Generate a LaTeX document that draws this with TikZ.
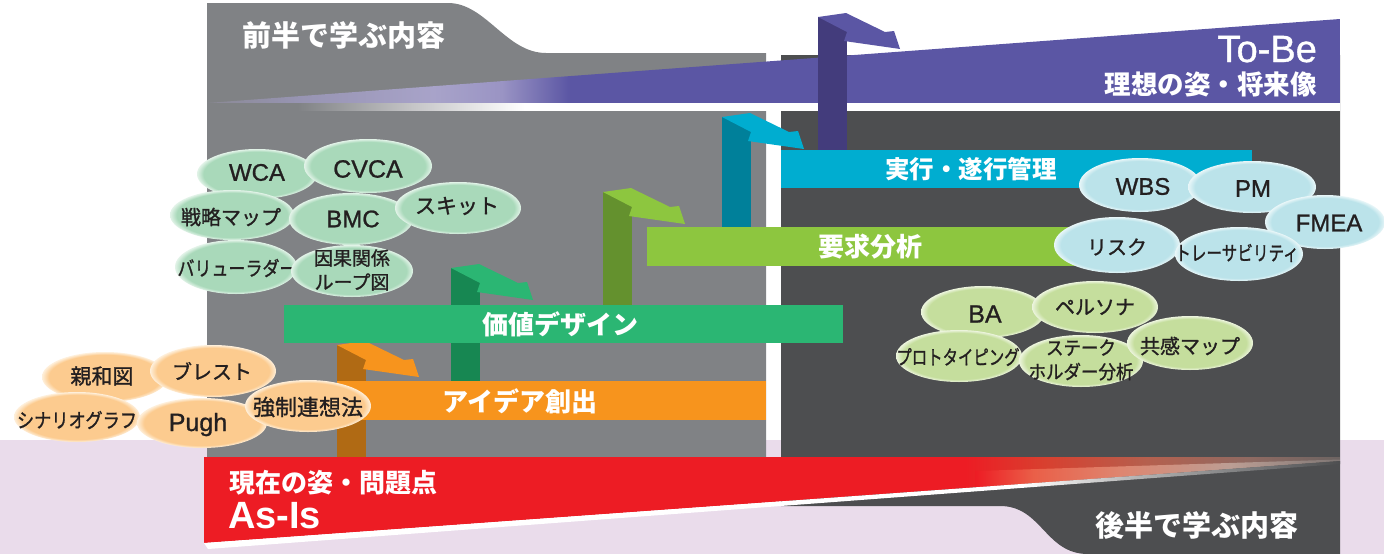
\documentclass[tikz,border=0pt]{standalone}
\usepackage{fontspec}
\setmainfont{Liberation Sans}
\newfontfamily\jp{Noto Sans CJK JP}
\newfontfamily\jpm{Noto Sans CJK JP}[FakeBold=1.2]
\newfontfamily\latm{Liberation Sans}[FakeBold=1.0]
\usepackage{graphicx}
\definecolor{panelgray}{HTML}{808285}
\definecolor{darkpanel}{HTML}{4D4E50}
\definecolor{lavender}{HTML}{EADCEB}
\definecolor{tobe}{HTML}{5B56A4}
\definecolor{tobedark}{HTML}{433C7C}
\definecolor{tobeZ}{HTML}{8A8994}
\definecolor{tobeA}{HTML}{9794B2}
\definecolor{tobeB}{HTML}{A8A3C9}
\definecolor{tobeC}{HTML}{9A94C4}
\definecolor{stripL}{HTML}{C4C4C6}
\definecolor{asis}{HTML}{ED1C24}
\definecolor{asisA}{HTML}{D8402F}
\definecolor{asisB}{HTML}{B5604E}
\definecolor{asisC}{HTML}{8F6A62}
\definecolor{asisD}{HTML}{6C6462}
\definecolor{salA}{HTML}{EA5F48}
\definecolor{salB}{HTML}{DE8670}
\definecolor{salC}{HTML}{BC9E94}
\definecolor{salD}{HTML}{7E7674}
\definecolor{stripg}{HTML}{B4B4B4}
\definecolor{orangeband}{HTML}{F7941D}
\definecolor{orangedark}{HTML}{B06A14}
\definecolor{greenband}{HTML}{2BB673}
\definecolor{greendark}{HTML}{178752}
\definecolor{lgreenband}{HTML}{8DC63F}
\definecolor{olivedark}{HTML}{64912E}
\definecolor{cyanband}{HTML}{00ADD0}
\definecolor{tealdark}{HTML}{00809A}
\definecolor{eG}{HTML}{A9D9BA}
\definecolor{eGw}{HTML}{E2F3E8}
\definecolor{eC}{HTML}{BBE3EA}
\definecolor{eCw}{HTML}{E8F6F8}
\definecolor{eL}{HTML}{C5DE9D}
\definecolor{eLw}{HTML}{ECF4DD}
\definecolor{eO}{HTML}{FCCB8F}
\definecolor{eOw}{HTML}{FEEFDA}
\definecolor{txt}{HTML}{231F20}
\pgfdeclarehorizontalshading{tobeshade}{100bp}{color(0bp)=(tobeZ); color(25bp)=(tobeZ); color(29bp)=(tobeA); color(35bp)=(tobeB); color(38bp)=(tobeC); color(41bp)=(tobe); color(100bp)=(tobe)}
\pgfdeclarehorizontalshading{wstripP}{100bp}{color(0bp)=(panelgray); color(29bp)=(panelgray); color(34bp)=(stripL); color(39bp)=(white); color(100bp)=(white)}
\pgfdeclarehorizontalshading{asisshade}{100bp}{color(0bp)=(asis); color(58.5bp)=(asis); color(62bp)=(asisA); color(66.5bp)=(asisB); color(71bp)=(asisC); color(75bp)=(asisD); color(100bp)=(asisD)}
\pgfdeclarehorizontalshading{salmonshade}{100bp}{color(0bp)=(asis); color(25bp)=(asis); color(33bp)=(salA); color(45bp)=(salB); color(60bp)=(salC); color(75bp)=(salD); color(100bp)=(salD)}
\pgfdeclarehorizontalshading{wstripR}{100bp}{color(0bp)=(white); color(61bp)=(white); color(66bp)=(stripg); color(75bp)=(darkpanel); color(100bp)=(darkpanel)}
\pgfdeclareradialshading{glowG}{\pgfpoint{0bp}{0bp}}{color(0bp)=(eG); color(22.3bp)=(eG); color(25bp)=(eGw); color(50bp)=(eGw)}
\pgfdeclareradialshading{glowC}{\pgfpoint{0bp}{0bp}}{color(0bp)=(eC); color(22.3bp)=(eC); color(25bp)=(eCw); color(50bp)=(eCw)}
\pgfdeclareradialshading{glowL}{\pgfpoint{0bp}{0bp}}{color(0bp)=(eL); color(22.3bp)=(eL); color(25bp)=(eLw); color(50bp)=(eLw)}
\pgfdeclareradialshading{glowO}{\pgfpoint{0bp}{0bp}}{color(0bp)=(eO); color(22.3bp)=(eO); color(25bp)=(eOw); color(50bp)=(eOw)}
\newcommand\ribarrow[5]{%
  \fill[#4] (#1,#2) rectangle ({#1+29},#3);
  \fill[#5] (#1,#2) -- ++(28,-4) -- ++(39,19) -- ++(9,-1) -- ++(6,18) -- ++(-56,-8) -- ++(3,-9) -- cycle;
}
\newcommand\bub[5]{\shade[shading=#1] (#2,#3) ellipse [x radius=#4, y radius=#5];}
\tikzset{
  bandtxt/.style={font=\jp\bfseries\fontsize{26}{26}\selectfont, text=white, inner sep=0},
  hdr/.style={font=\jp\bfseries\fontsize{29}{29}\selectfont, text=white, inner sep=0},
  jtxt/.style={font=\jpm\fontsize{20}{24}\selectfont, text=txt, inner sep=0, align=center},
  ltxt/.style={font=\latm\fontsize{24}{24}\selectfont, text=txt, inner sep=0},
}
\begin{document}
\begin{tikzpicture}[x=1pt,y=-1pt]
\useasboundingbox (0,0) rectangle (1384,554);
% backgrounds
\fill[lavender] (0,440) rectangle (1384,554);
\fill[panelgray] (207,3) -- (448,3) .. controls (486,3) and (506,53) .. (546,53) -- (766,53) -- (766,470) -- (207,470) -- cycle;
\fill[darkpanel] (781,55) -- (1340,55) -- (1340,554) -- (1088,554) .. controls (1045,554) and (1042,506) .. (1000,506) -- (781,506) -- cycle;
% To-Be band
\shade[shading=tobeshade] (207,103) -- (1340,19) -- (1340,103) -- cycle;
\shade[shading=wstripP] (207,103) rectangle (1340,110);
% arrows
\ribarrow{337}{345}{457}{orangedark}{orangeband}
\ribarrow{451}{268}{385}{greendark}{greenband}
\ribarrow{603}{192}{310}{olivedark}{lgreenband}
\ribarrow{722}{117}{230}{tealdark}{cyanband}
\ribarrow{818}{17}{155}{tobedark}{tobe}
% bands
\fill[orangeband] (337,381) rectangle (766,420);
\fill[greenband] (284,305) rectangle (843,343);
\fill[lgreenband] (647,227) rectangle (1095,266);
\fill[cyanband] (781,150) rectangle (1252,188);
\node[bandtxt] (idea) at (520,401) {アイデア創出};
\node[bandtxt] (value) at (560,324) {価値デザイン};
\node[bandtxt] (req) at (870,246.5) {要求分析};
\node[bandtxt, font=\jp\bfseries\fontsize{24.5}{25}\selectfont] (exec) at (971,169) {実行・遂行管理};
% As-Is band
\shade[shading=asisshade] (204,457) -- (1340,457) -- (1340,461) -- (204,543) -- cycle;
\shade[shading=salmonshade] (975,471) -- (1340,459.5) -- (1340,461) -- (975,487.3) -- cycle;
\shade[shading=wstripR] (204,543) -- (1340,461) -- (1340,464) -- (208,549) -- cycle;
% green ellipses
\bub{glowG}{257}{174}{60}{25}
\node[ltxt] (wca) at (257,172.5) {WCA};
\bub{glowG}{368}{166}{64}{27}
\node[ltxt, font=\latm\fontsize{25}{25}\selectfont] (cvca) at (368,169) {CVCA};
\bub{glowG}{232}{215}{62}{25}
\node[jtxt] (senryaku) at (231,217) {戦略マップ};
\bub{glowG}{351}{219}{62}{26}
\node[ltxt] (bmc) at (353,219) {BMC};
\bub{glowG}{458}{208}{63}{26}
\node[jtxt, font=\jpm\fontsize{21}{24}\selectfont] (skit) at (457,206) {スキット};
\bub{glowG}{236}{267}{61}{27}
\node[jtxt] (value2) at (237,268) {\scalebox{0.85}[1]{バリューラダー}};
\bub{glowG}{352}{271}{61}{26}
\node[jtxt, font=\jpm\fontsize{19}{24}\selectfont] (loop) at (352,270) {因果関係\\ループ図};
% cyan ellipses
\bub{glowC}{1140}{185}{61}{27}
\node[ltxt] (wbs) at (1143,186.5) {WBS};
\bub{glowC}{1252}{187}{64}{26}
\node[ltxt] (pm) at (1253,188.5) {PM};
\bub{glowC}{1325}{222}{60}{27}
\node[ltxt] (fmea) at (1329,223) {FMEA};
\bub{glowC}{1117}{245}{63}{28}
\node[jtxt] (risk) at (1117,247) {リスク};
\bub{glowC}{1239}{254}{64}{27}
\node[jtxt] (trace) at (1237,253) {\scalebox{0.78}[1]{トレーサビリティ}};
% light green ellipses
\bub{glowL}{983}{312}{62}{26}
\node[ltxt, font=\latm\fontsize{25}{25}\selectfont] (ba) at (985,314) {BA};
\bub{glowL}{1095}{307}{63}{26}
\node[jtxt] (persona) at (1095,307) {ペルソナ};
\bub{glowL}{959}{356}{63}{26}
\node[jtxt] (proto) at (958,357) {\scalebox{0.77}[1]{プロトタイピング}};
\bub{glowL}{1081}{361}{62}{26}
\node[jtxt, font=\jpm\fontsize{19}{24}\selectfont] (stake) at (1081,360) {\scalebox{0.92}[1]{ステーク}\\\scalebox{0.92}[1]{ホルダー分析}};
\bub{glowL}{1190}{343}{63}{27}
\node[jtxt] (empathy) at (1190,346) {共感マップ};
% orange ellipses
\bub{glowO}{105}{377}{63}{25}
\node[jtxt, font=\jpm\fontsize{21}{24}\selectfont] (shinwa) at (102,376) {親和図};
\bub{glowO}{213}{371}{63}{26}
\node[jtxt] (brest) at (212,371) {ブレスト};
\bub{glowO}{77}{417}{63}{25}
\node[jtxt] (scenario) at (77,420) {\scalebox{0.86}[1]{シナリオグラフ}};
\bub{glowO}{202}{423}{65}{25}
\node[ltxt, font=\latm\fontsize{25}{25}\selectfont, anchor=base] (pugh) at (198,431) {Pugh};
\bub{glowO}{308}{406}{63}{26}
\node[jtxt, font=\jpm\fontsize{22}{24}\selectfont] (kyosei) at (308,407) {強制連想法};
% headers
\node[hdr] (h1) at (344,35) {前半で学ぶ内容};
\node[hdr] (h2) at (1197,525) {後半で学ぶ内容};
\node[anchor=base east, font=\latm\fontsize{38}{38}\selectfont, text=white, inner sep=0] (tobet) at (1317,62) {To-Be};
\node[anchor=east, font=\jp\bfseries\fontsize{26.5}{27}\selectfont, text=white, inner sep=0] (tobej) at (1317,84.5) {理想の姿・将来像};
\node[anchor=west, font=\jp\bfseries\fontsize{26}{27}\selectfont, text=white, inner sep=0] (asisj) at (229,482.5) {現在の姿・問題点};
\node[anchor=base west, font=\bfseries\fontsize{38}{38}\selectfont, text=white, inner sep=0] (asist) at (228,528) {As-Is};
\end{tikzpicture}
\end{document}
